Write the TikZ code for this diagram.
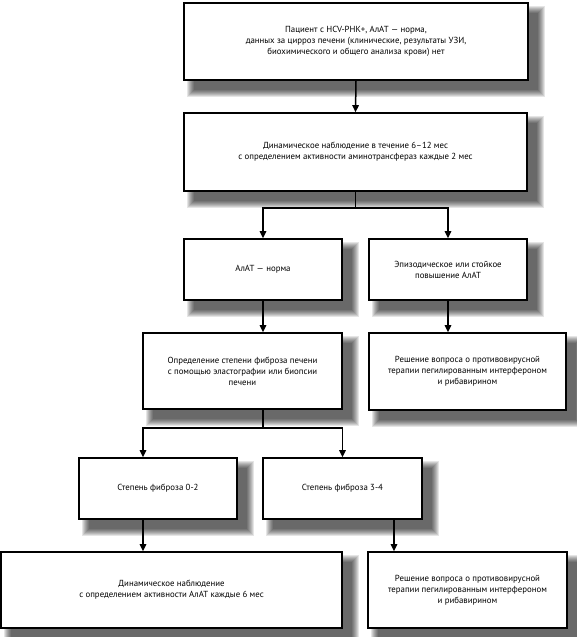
\documentclass[tikz,border=0pt]{standalone}
\usepackage{fontspec}
\setmainfont{PT Sans}
\usetikzlibrary{arrows.meta,calc}
\pgfdeclarelayer{bg}
\pgfsetlayers{bg,main}
\newcommand\softshadowof[1]{%
  \begin{pgfonlayer}{bg}
  \foreach \k in {0,...,7}{
    \fill[black,opacity=.1]
      ($(#1.north west)+(4+\k,4+\k)$) rectangle ($(#1.south east)+(16-\k,16-\k)$);
  }
  \end{pgfonlayer}}
\begin{document}
\begin{tikzpicture}[x=1pt,y=-1pt,
  box/.style={draw=black,line width=1.6pt,fill=white,
    align=center,inner sep=0pt,
    font=\fontsize{8.8}{11}\selectfont},
  arr/.style={line width=1.5pt,-{Triangle[length=7pt,width=6.5pt]}},
  ln/.style={line width=1.5pt}]
\useasboundingbox (0,0) rectangle (577,637);
\begin{pgfonlayer}{bg}
\fill[white] (0,0) rectangle (577,637);
\end{pgfonlayer}
\node[box,minimum width=344pt,minimum height=77pt] (b1) at (356,41.5)
  {Пациент с HCV-РНК+, АлАТ — норма,\\данных за цирроз печени (клинические, результаты УЗИ,\\биохимического и общего анализа крови) нет};
\node[box,minimum width=343pt,minimum height=78pt] (b2) at (355.5,152)
  {Динамическое наблюдение в течение 6–12 мес\\с определением активности аминотрансфераз каждые 2 мес};
\node[box,minimum width=158pt,minimum height=61pt] (b3) at (263,269.5)
  {АлАТ — норма};
\node[box,minimum width=158pt,minimum height=61pt] (b4) at (448,269.5)
  {Эпизодическое или стойкое\\повышение АлАТ};
\node[box,minimum width=199pt,minimum height=76pt] (b5) at (242.5,371)
  {Определение степени фиброза печени\\с помощью эластографии или биопсии\\печени};
\node[box,minimum width=197pt,minimum height=77pt] (b6) at (467.5,371.5)
  {Решение вопроса о противовирусной\\терапии пегилированным интерфероном\\и рибавирином};
\node[box,minimum width=158pt,minimum height=61pt] (b7) at (158,488.5)
  {Степень фиброза 0-2};
\node[box,minimum width=159pt,minimum height=61pt] (b8) at (342.5,488.5)
  {Степень фиброза 3-4};
\node[box,minimum width=341pt,minimum height=76pt] (b9) at (171.5,590)
  {Динамическое наблюдение\\с определением активности АлАТ каждые 6 мес};
\node[box,minimum width=199pt,minimum height=76pt] (b10) at (467.5,590)
  {Решение вопроса о противовирусной\\терапии пегилированным интерфероном\\и рибавирином};
\foreach \n in {b1,b2,b3,b4,b5,b6,b7,b8,b9,b10}{\softshadowof{\n}}
% connectors
\draw[arr] (b1.south) -- (b2.north);
\coordinate (j1) at ($(b2.south)+(0,16)$);
\draw[ln] (b2.south) -- (j1);
\draw[arr] (j1) -| (b3.north);
\draw[arr] (j1) -| (b4.north);
\draw[arr] (b3.south) -- (b3.south |- b5.north);
\draw[arr] (b4.south) -- (b4.south |- b6.north);
\coordinate (j2) at ($(b5.south)+(20.5,18)$);
\coordinate (t7) at ($(b7.north)+(-15,0)$);
\coordinate (s7) at ($(b7.south)+(-15,0)$);
\coordinate (s8) at ($(b8.south)+(51.5,0)$);
\draw[ln] (b5.south -| j2) -- (j2);
\draw[arr] (j2) -| (t7);
\draw[arr] (j2) -| (b8.north);
\draw[arr] (s7) -- (s7 |- b9.north);
\draw[arr] (s8) -- (s8 |- b10.north);
\end{tikzpicture}
\end{document}
